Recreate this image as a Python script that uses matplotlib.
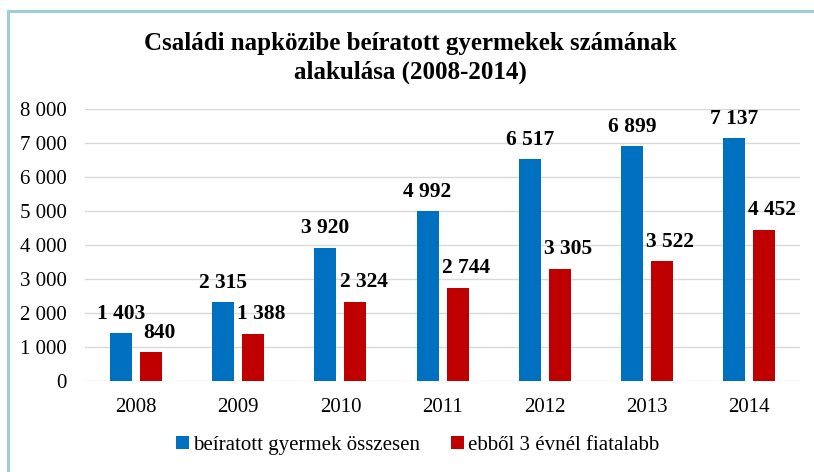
import numpy as np
import matplotlib
matplotlib.use("Agg")
from matplotlib import pyplot as plt
from matplotlib.lines import Line2D

years = ["2008", "2009", "2010", "2011", "2012", "2013", "2014"]
total = [1403, 2315, 3920, 4992, 6517, 6899, 7137]
under3 = [840, 1388, 2324, 2744, 3305, 3522, 4452]
labels = ["beíratott gyermek összesen", "ebből 3 évnél fiatalabb"]
title = "Családi napközibe beíratott gyermekek számának\nalakulása (2008-2014)"

plt.rcParams["font.family"] = ["Liberation Serif", "DejaVu Serif"]

def fmt(v):
    return f"{v:,}".replace(",", " ")

fig = plt.figure(figsize=(8.14, 4.72), dpi=100)
ax = fig.add_axes([0.1044, 0.1928, 0.8786, 0.5763])

x = np.arange(len(years))
w = 0.215
off = 0.147
b1 = ax.bar(x - off, total, w, color="#0070C0", label=labels[0], zorder=3)
b2 = ax.bar(x + off, under3, w, color="#C00000", label=labels[1], zorder=3)

# red labels sit a little to the right, as in the original
for bars, vals, dx in ((b1, total, 0), (b2, under3, 6)):
    for r, v in zip(bars, vals):
        ax.annotate(fmt(v), (r.get_x() + r.get_width() / 2, v), xytext=(dx, 7),
                    textcoords="offset points", ha="center", va="bottom",
                    fontsize=15.5, fontweight="bold")

ax.set_xlim(-0.5, len(years) - 0.5)
ax.set_ylim(0, 8000)
ax.set_yticks(range(0, 8001, 1000))
ax.set_yticklabels([fmt(v) for v in range(0, 8001, 1000)], fontsize=15)
ax.set_xticks(x)
ax.set_xticklabels(years, fontsize=15)
ax.tick_params(length=0, pad=12)
ax.tick_params(axis="y", pad=13)
ax.grid(axis="y", color="#D9D9D9", linewidth=1, zorder=0)
for s in ax.spines.values():
    s.set_visible(False)

fig.text(0.504, 0.877, title, ha="center", va="center", fontsize=18,
         fontweight="bold", linespacing=1.3)

fig.legend(loc="center", bbox_to_anchor=(0.513, 0.056), ncol=2, frameon=False,
           fontsize=15, handlelength=0.6, handleheight=0.6, handletextpad=0.2,
           columnspacing=1.5)

# frame border, only top and left visible
fig.add_artist(Line2D([7.5 / 814, 1], [1 - 10.5 / 472] * 2, color="#9DCFD6",
                      linewidth=2.2, transform=fig.transFigure))
fig.add_artist(Line2D([7.5 / 814] * 2, [0, 1 - 10.5 / 472], color="#9DCFD6",
                      linewidth=2.2, transform=fig.transFigure))

fig.savefig("out.png", dpi=100)
